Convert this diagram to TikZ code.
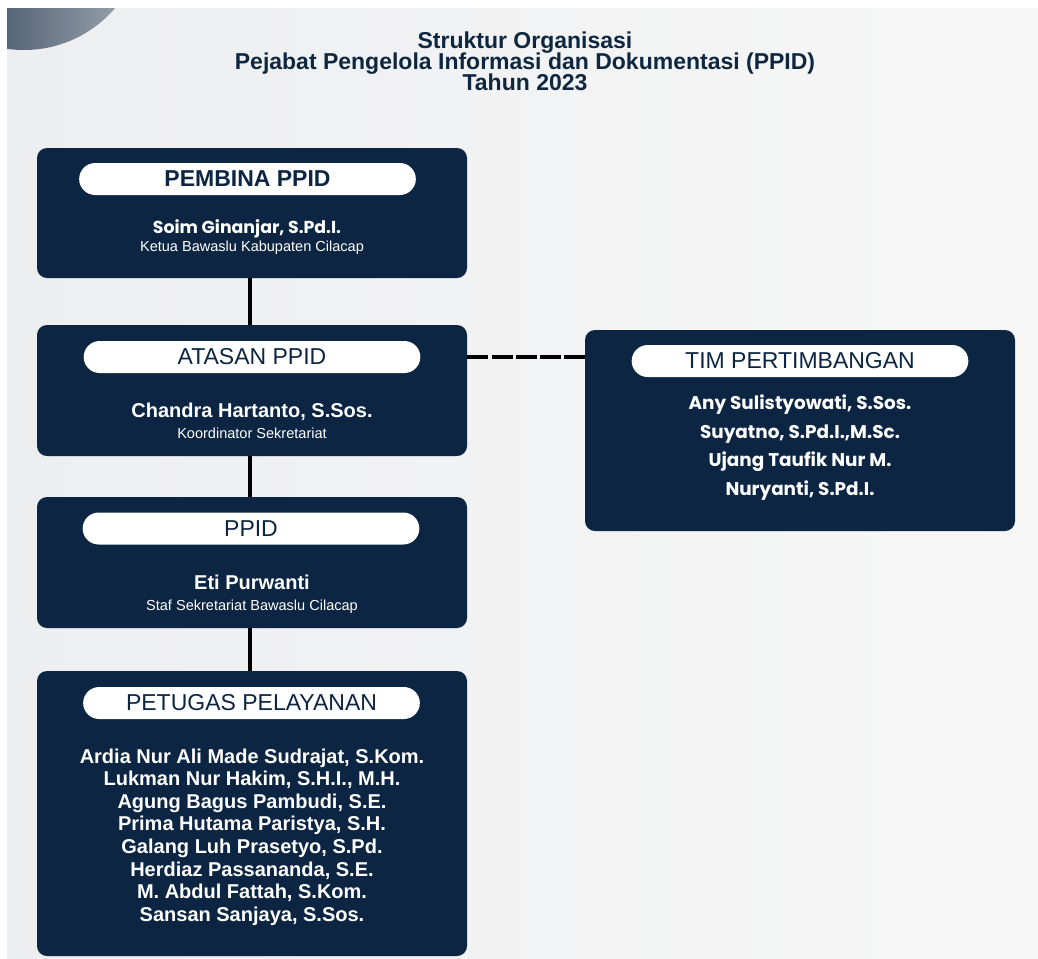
\documentclass[tikz,border=0pt]{standalone}
\usepackage{fontspec}
\setmainfont{Liberation Sans}
\newfontfamily\popfont{Poppins}
\definecolor{navy}{HTML}{0C2542}
\definecolor{titlec}{HTML}{0E2740}
\definecolor{bgl}{HTML}{EDEEF0}
\definecolor{bgr}{HTML}{F7F7F7}
\definecolor{circl}{HTML}{1B314B}
\definecolor{circr}{HTML}{A3ABB4}
\tikzset{
  box/.style={fill=navy, rounded corners=7.5pt, minimum width=322.5pt, inner sep=0pt, draw=none},
  pill/.style={fill=white, rounded corners=12pt, minimum width=252.5pt, minimum height=24pt, inner sep=0pt, text=navy, font=\fontsize{17.25pt}{20pt}\selectfont},
  personname/.style={text=white, font=\bfseries\fontsize{15pt}{17pt}\selectfont, anchor=base, inner sep=0pt},
  rolename/.style={text=white, font=\fontsize{10.9pt}{13pt}\selectfont, anchor=base, inner sep=0pt},
  popname/.style={text=white, font=\popfont\bfseries\fontsize{13.8pt}{16pt}\selectfont, anchor=base, inner sep=0pt},
  titletext/.style={text=titlec, font=\bfseries\fontsize{17.25pt}{20pt}\selectfont, anchor=base, inner sep=0pt},
  solidlink/.style={line width=3pt, black},
  dashlink/.style={line width=3pt, black, dash pattern=on 15.75pt off 2.45pt}
}
\begin{document}
\begin{tikzpicture}[x=0.75pt,y=-0.75pt]
\useasboundingbox (0,0) rectangle (1038,958);
\fill[white] (0,0) rectangle (1038,958);
\shade[left color=bgl, right color=bgr] (7,8) rectangle (1038,958);
\begin{scope}
  \clip (7,8) rectangle (1038,958);
  \shade[left color=circl, right color=circr] (24,-70) circle[radius=90pt];
\end{scope}

% title
\node[titletext] (t1) at (525,48) {Struktur Organisasi};
\node[titletext] (t2) at (525,69) {Pejabat Pengelola Informasi dan Dokumentasi (PPID)};
\node[titletext] (t3) at (525,90) {Tahun 2023};

% boxes
\node[box, minimum height=97.5pt] (pembina) at (252,213) {};
\node[box, minimum height=98.25pt] (atasan) at (252,390.5) {};
\node[box, minimum height=98.25pt] (ppid) at (252,562.5) {};
\node[box, minimum height=213.75pt] (petugas) at (252,813.5) {};
\node[box, minimum height=150.75pt] (tim) at (800,430.5) {};

% pills
\node[pill, font=\bfseries\fontsize{17.25pt}{20pt}\selectfont] (pembinapill) at (247.5,179) {PEMBINA PPID};
\node[pill] (atasanpill) at (252,357) {ATASAN PPID};
\node[pill] (ppidpill) at (251,528.5) {PPID};
\node[pill] (petugaspill) at (251.5,703) {PETUGAS PELAYANAN};
\node[pill] (timpill) at (800,361) {TIM PERTIMBANGAN};

% texts
\node[popname, font=\popfont\bfseries\fontsize{13pt}{15pt}\selectfont] (soim) at (247,233) {Soim Ginanjar, S.Pd.I.};
\node[rolename] (ketua) at (252,251) {Ketua Bawaslu Kabupaten Cilacap};
\node[personname] (chandra) at (252,417) {Chandra Hartanto, S.Sos.};
\node[rolename] (koord) at (252,438) {Koordinator Sekretariat};
\node[personname] (eti) at (252,589) {Eti Purwanti};
\node[rolename] (staf) at (252,610) {Staf Sekretariat Bawaslu Cilacap};

\node[personname] (p1) at (252,763) {Ardia Nur Ali Made Sudrajat, S.Kom.};
\node[personname] (p2) at (252,785.6) {Lukman Nur Hakim, S.H.I., M.H.};
\node[personname] (p3) at (252,808.2) {Agung Bagus Pambudi, S.E.};
\node[personname] (p4) at (252,830.8) {Prima Hutama Paristya, S.H.};
\node[personname] (p5) at (252,853.4) {Galang Luh Prasetyo, S.Pd.};
\node[personname] (p6) at (252,876) {Herdiaz Passananda, S.E.};
\node[personname] (p7) at (252,898.6) {M. Abdul Fattah, S.Kom.};
\node[personname] (p8) at (252,921.2) {Sansan Sanjaya, S.Sos.};

\node[popname] (m1) at (800,409.5) {Any Sulistyowati, S.Sos.};
\node[popname] (m2) at (800,438) {Suyatno, S.Pd.I.,M.Sc.};
\node[popname] (m3) at (800,466.5) {Ujang Taufik Nur M.};
\node[popname] (m4) at (800,495) {Nuryanti, S.Pd.I.};

% connectors
\draw[solidlink] ([xshift=-1.5pt]pembina.south) -- ([xshift=-1.5pt]atasan.north);
\draw[solidlink] ([xshift=-1.5pt]atasan.south) -- ([xshift=-1.5pt]ppid.north);
\draw[solidlink] ([xshift=-1.5pt]ppid.south) -- ([xshift=-1.5pt]petugas.north);
\draw[dashlink] (atasan.east |- atasanpill.center) -- (tim.west |- atasanpill.center);
\end{tikzpicture}
\end{document}
